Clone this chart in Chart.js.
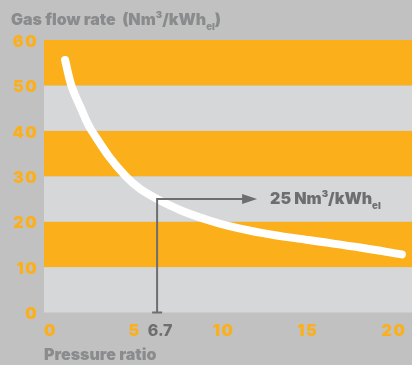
<!DOCTYPE html>
<html>
<head>
<meta charset="utf-8">
<script src="https://cdn.jsdelivr.net/npm/chart.js@4"></script>
<style>
  html, body { margin: 0; padding: 0; background: #c1c1c1; }
  canvas { display: block; }
</style>
</head>
<body>
<canvas id="chart" width="412" height="365"></canvas>
<script>
// Gas flow rate per kWh of electricity as a function of the pressure ratio
const pressureRatio = [1.25, 1.62, 2.15, 2.83, 4.84, 6.7, 9.84, 12.8, 15.77, 18.73, 21.2];
const gasFlowRate   = [55.6, 50, 45.3, 40, 30, 25, 20.2, 17.6, 15.9, 14.3, 12.8];

const flowTicks  = [0, 10, 20, 30, 40, 50, 60];
const ratioTicks = [0, 5, 10, 15, 20];

// Highlighted operating point
const markedRatio = 6.7;
const markedFlow  = 25;

const ORANGE = '#fbb01b';
const LIGHT  = '#d6d7d9';
const BACK   = '#c1c1c1';
const TITLE  = '#8a8b8d';
const DARK   = '#6d6e70';
const FONT   = 'Inter, "Open Sans", "DejaVu Sans", sans-serif';

// Draws text pieces in a row; pieces may be raised (sup) or lowered (sub)
function drawRich(ctx, x, y, pieces, size, color) {
  ctx.save();
  ctx.fillStyle = color;
  ctx.textBaseline = 'middle';
  ctx.textAlign = 'left';
  let cx = x;
  for (const p of pieces) {
    const s = p.kind ? size * 0.6 : size;
    const dy = p.kind === 'sup' ? -size * 0.32 : p.kind === 'sub' ? size * 0.42 : 0;
    ctx.font = `900 ${s}px ${FONT}`;
    ctx.fillText(p.text, cx, y + dy);
    cx += ctx.measureText(p.text).width;
  }
  ctx.restore();
}

const decor = {
  id: 'decor',
  beforeDraw(chart) {
    const { ctx, chartArea: a, scales: { y } } = chart;
    ctx.save();
    ctx.fillStyle = BACK;
    ctx.fillRect(0, 0, chart.width, chart.height);
    // alternating horizontal bands between the flow ticks
    for (let i = 0; i < flowTicks.length - 1; i++) {
      const top = y.getPixelForValue(flowTicks[i + 1]);
      const bot = y.getPixelForValue(flowTicks[i]);
      ctx.fillStyle = i % 2 === 0 ? LIGHT : ORANGE;
      ctx.fillRect(a.left, top, a.right - a.left, bot - top);
    }
    ctx.restore();
  },
  afterDatasetsDraw(chart) {
    const { ctx, chartArea: a, scales: { x, y } } = chart;
    ctx.save();

    // tick labels
    ctx.font = `900 16px ${FONT}`;
    ctx.letterSpacing = '1.5px';
    ctx.fillStyle = ORANGE;
    ctx.textBaseline = 'middle';
    ctx.textAlign = 'right';
    for (const v of flowTicks) {
      ctx.fillText(String(v), 38, y.getPixelForValue(v) + 2);
    }
    ctx.textAlign = 'left';
    for (const v of ratioTicks) {
      ctx.fillText(String(v), x.getPixelForValue(v), a.bottom + 19);
    }
    ctx.letterSpacing = '0px';

    // marker: drop line to the axis and arrow to the value label
    const px = x.getPixelForValue(markedRatio);
    const py = y.getPixelForValue(markedFlow);
    const ax = px + 100;
    ctx.strokeStyle = DARK;
    ctx.fillStyle = DARK;
    ctx.lineWidth = 2;
    ctx.beginPath();
    ctx.moveTo(px, a.bottom);
    ctx.lineTo(px, py);
    ctx.lineTo(ax - 12, py);
    ctx.stroke();
    ctx.beginPath();
    ctx.moveTo(px - 5, a.bottom);
    ctx.lineTo(px + 5, a.bottom);
    ctx.stroke();
    ctx.beginPath();
    ctx.moveTo(ax, py);
    ctx.lineTo(ax - 15, py - 5);
    ctx.lineTo(ax - 15, py + 5);
    ctx.closePath();
    ctx.fill();

    ctx.font = `800 16px ${FONT}`;
    ctx.textAlign = 'center';
    ctx.fillText(String(markedRatio), px + 3, a.bottom + 19);

    drawRich(ctx, ax + 13, py, [
      { text: `${markedFlow} Nm` }, { text: '3', kind: 'sup' },
      { text: '/kWh' }, { text: 'el', kind: 'sub' }
    ], 16, DARK);

    // axis titles
    drawRich(ctx, 11, 20, [
      { text: 'Gas flow rate  (Nm' }, { text: '3', kind: 'sup' },
      { text: '/kWh' }, { text: 'el', kind: 'sub' }, { text: ')' }
    ], 16, TITLE);
    drawRich(ctx, 44, 355, [{ text: 'Pressure ratio' }], 16, TITLE);

    ctx.restore();
  }
};

new Chart(document.getElementById('chart'), {
  type: 'line',
  data: {
    datasets: [{
      data: pressureRatio.map((r, i) => ({ x: r, y: gasFlowRate[i] })),
      borderColor: '#ffffff',
      borderWidth: 8,
      borderCapStyle: 'round',
      borderJoinStyle: 'round',
      pointRadius: 0,
      tension: 0.4,
      fill: false,
      clip: false
    }]
  },
  options: {
    responsive: false,
    animation: false,
    events: [],
    layout: { padding: { left: 44, top: 40, right: 0, bottom: 52.5 } },
    plugins: { legend: { display: false }, tooltip: { enabled: false } },
    scales: {
      x: { type: 'linear', min: 0, max: 21.8, display: false },
      y: { type: 'linear', min: 0, max: 60, display: false }
    }
  },
  plugins: [decor]
});
</script>
</body>
</html>
